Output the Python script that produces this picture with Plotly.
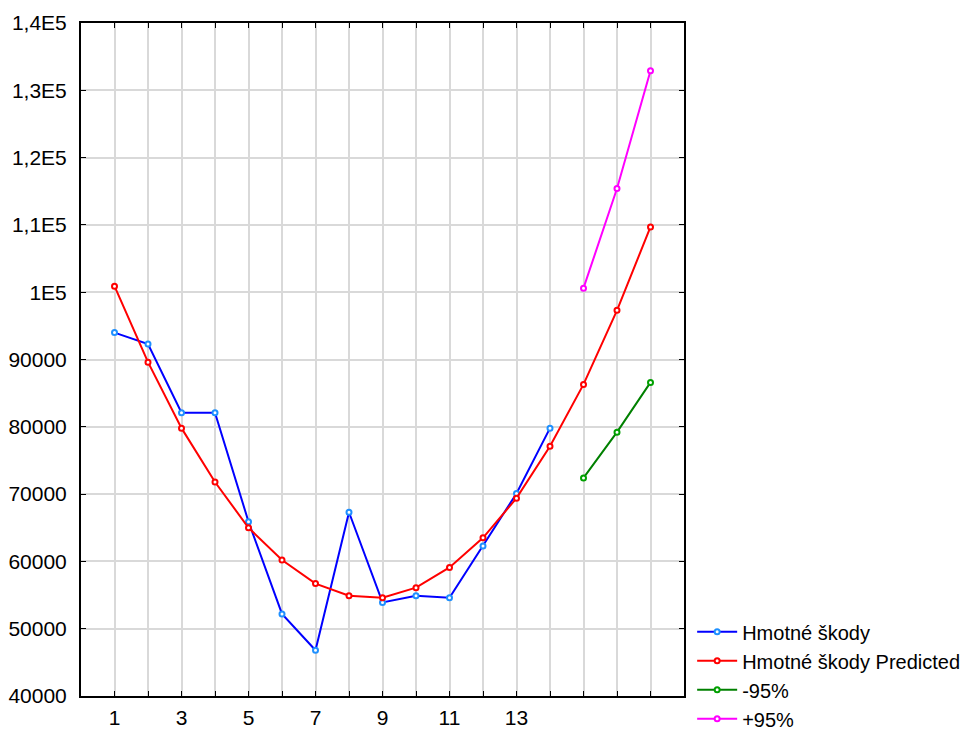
import plotly.graph_objects as go

x_obs = list(range(1, 15))
hmotne = [94000, 92300, 82100, 82100, 65900, 52200, 46800, 67300, 53900, 54900, 54600, 62300, 70100, 79800]
x_pred = list(range(1, 18))
predicted = [100900, 89600, 79800, 71800, 65000, 60200, 56700, 54900, 54600, 56100, 59100, 63500, 69400, 77100, 86300, 97300, 109700]
x_ci = [15, 16, 17]
lower95 = [72400, 79200, 86600]
upper95 = [100600, 115400, 132900]

y_ticks = [40000, 50000, 60000, 70000, 80000, 90000, 100000, 110000, 120000, 130000, 140000]
y_ticktext = ["40000", "50000", "60000", "70000", "80000", "90000", "1E5", "1,1E5", "1,2E5", "1,3E5", "1,4E5"]
x_ticks = list(range(1, 18))
x_ticktext = ["1", "", "3", "", "5", "", "7", "", "9", "", "11", "", "13", "", "", "", ""]

FONT = "Liberation Sans, Arial, sans-serif"

fig = go.Figure()
series = [
    ("Hmotné škody", x_obs, hmotne, "#0000ff", "#1e90ff"),
    ("Hmotné škody Predicted", x_pred, predicted, "#ff0000", "#ff0000"),
    ("-95%", x_ci, lower95, "#008000", "#00a000"),
    ("+95%", x_ci, upper95, "#ff00ff", "#ff00ff"),
]
for name, xs, ys, lc, mc in series:
    fig.add_trace(go.Scatter(
        x=xs, y=ys, name=name, mode="lines+markers",
        line=dict(color=lc, width=2),
        marker=dict(color="white", size=5, line=dict(color=mc, width=2)),
    ))

fig.update_layout(
    width=979, height=731,
    margin=dict(l=81, r=295, t=23, b=35),
    paper_bgcolor="white", plot_bgcolor="white",
    font=dict(family=FONT, size=21, color="black"),
    showlegend=True,
    legend=dict(xref="container", yref="container",
                x=0.707, y=0.1625, xanchor="left", yanchor="top",
                font=dict(size=20, color="black"), bgcolor="rgba(0,0,0,0)",
                tracegroupgap=0, itemwidth=40),
)
fig.update_xaxes(
    range=[0, 18], tickmode="array", tickvals=x_ticks, ticktext=x_ticktext,
    showgrid=True, gridcolor="#d9d9d9", gridwidth=2,
    showline=True, linecolor="black", linewidth=2, mirror="ticks",
    ticks="inside", ticklen=5, tickcolor="black", zeroline=False,
    tickfont=dict(size=21), ticklabelstandoff=2, automargin=False,
)
fig.update_yaxes(
    range=[40000, 140000], tickmode="array", tickvals=y_ticks, ticktext=y_ticktext,
    showgrid=True, gridcolor="#d9d9d9", gridwidth=2,
    showline=True, linecolor="black", linewidth=2, mirror="ticks",
    ticks="inside", ticklen=5, tickcolor="black", zeroline=False,
    tickfont=dict(size=21), ticklabelstandoff=8, automargin=False,
)
fig.write_html("out.html")
